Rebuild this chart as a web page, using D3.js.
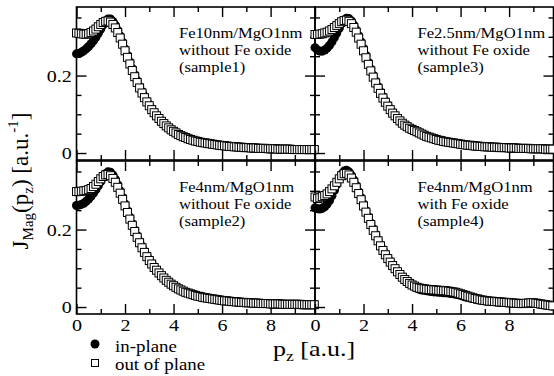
<!doctype html>
<html lang="en">
<head>
<meta charset="UTF-8">
<title>J_Mag(pz)</title>
<style>
  body { margin: 0; background: #fff; }
  svg { display: block; }
  text { font-family: "Liberation Serif", "Times New Roman", Times, serif; }
  .frame { fill: none; stroke: #000; stroke-width: 1.6; }
  .tick line { stroke: #000; stroke-width: 1.4; }
  .domain { display: none; }
</style>
</head>
<body>
<svg width="554" height="376"></svg>
<script src="https://cdn.jsdelivr.net/npm/d3@7"></script>
<script>
// momentum grid p_z [a.u.]
var pz = [0, .1, .2, .3, .4, .5, .6, .7, .8, .9,
  1, 1.1, 1.2, 1.3, 1.4, 1.5, 1.6, 1.7, 1.8, 1.9,
  2, 2.1, 2.2, 2.3, 2.4, 2.5, 2.6, 2.7, 2.8, 2.9,
  3, 3.1, 3.2, 3.3, 3.4, 3.5, 3.6, 3.7, 3.8, 3.9,
  4, 4.1, 4.2, 4.3, 4.4, 4.5, 4.6, 4.7, 4.8, 4.9,
  5, 5.1, 5.2, 5.3, 5.4, 5.5, 5.6, 5.7, 5.8, 5.9,
  6, 6.1, 6.2, 6.3, 6.4, 6.5, 6.6, 6.7, 6.8, 6.9,
  7, 7.1, 7.2, 7.3, 7.4, 7.5, 7.6, 7.7, 7.8, 7.9,
  8, 8.1, 8.2, 8.3, 8.4, 8.5, 8.6, 8.7, 8.8, 8.9,
  9, 9.1, 9.2, 9.3, 9.4, 9.5, 9.6, 9.7, 9.8];

// sample1 : Fe10nm/MgO1nm without Fe oxide
var s1In = [.256, .257, .260, .264, .269, .275, .282, .290, .299, .309,
  .320, .331, .340, .346, .346, .340, .330, .317, .302, .286,
  .269, .252, .235, .218, .202, .187, .172, .159, .147, .135,
  .125, .115, .106, .098, .090, .083, .077, .071, .066, .061,
  .057, .052, .049, .045, .042, .040, .037, .035, .033, .031,
  .030, .028, .027, .026, .025, .024, .023, .022, .021, .020,
  .019, .019, .018, .017, .017, .016, .016, .015, .015, .014,
  .014, .014, .013, .013, .013, .012, .012, .012, .012, .011,
  .011, .011, .011, .010, .010, .010, .010, .010, .010, .009,
  .009, .009, .009, .009, .009, .009, .009, .009, .009];
var s1Out = [.310, .309, .308, .307, .307, .308, .311, .315, .320, .326,
  .332, .337, .340, .341, .338, .332, .323, .311, .297, .281,
  .264, .247, .230, .213, .197, .182, .168, .155, .143, .132,
  .122, .112, .104, .096, .089, .082, .076, .070, .065, .060,
  .056, .052, .048, .045, .042, .040, .037, .035, .033, .031,
  .030, .028, .027, .026, .025, .024, .023, .022, .021, .020,
  .019, .019, .018, .017, .017, .016, .016, .015, .015, .014,
  .014, .014, .013, .013, .013, .012, .012, .012, .012, .011,
  .011, .011, .011, .010, .010, .010, .010, .010, .010, .009,
  .009, .009, .009, .009, .009, .009, .009, .009, .009];

// sample3 : Fe2.5nm/MgO1nm without Fe oxide
var s3In = [.272, .266, .263, .263, .266, .271, .278, .287, .298, .310,
  .322, .334, .343, .348, .347, .341, .331, .318, .303, .287,
  .270, .252, .234, .217, .201, .186, .171, .158, .146, .134,
  .124, .114, .105, .097, .089, .083, .077, .072, .068, .064,
  .061, .058, .055, .052, .049, .046, .043, .041, .039, .037,
  .035, .033, .032, .030, .029, .028, .027, .026, .025, .024,
  .023, .022, .021, .020, .020, .019, .018, .018, .017, .017,
  .016, .016, .016, .015, .015, .015, .014, .014, .014, .014,
  .013, .013, .013, .013, .012, .012, .012, .012, .012, .011,
  .011, .011, .011, .011, .011, .010, .010, .010, .010];
var s3Out = [.306, .306, .307, .308, .310, .312, .315, .319, .324, .329,
  .334, .339, .342, .343, .340, .334, .324, .312, .297, .281,
  .264, .246, .229, .212, .196, .181, .167, .154, .142, .131,
  .121, .112, .103, .096, .089, .083, .077, .072, .068, .064,
  .061, .058, .055, .052, .049, .046, .043, .041, .039, .037,
  .035, .033, .032, .030, .029, .028, .027, .026, .025, .024,
  .023, .022, .021, .020, .020, .019, .018, .018, .017, .017,
  .016, .016, .016, .015, .015, .015, .014, .014, .014, .014,
  .013, .013, .013, .013, .012, .012, .012, .012, .012, .011,
  .011, .011, .011, .011, .011, .010, .010, .010, .010];

// sample2 : Fe4nm/MgO1nm without Fe oxide
var s2In = [.262, .263, .265, .268, .273, .279, .286, .294, .303, .313,
  .324, .335, .344, .349, .348, .341, .330, .316, .300, .283,
  .266, .249, .232, .215, .199, .184, .170, .157, .144, .133,
  .123, .113, .104, .096, .088, .081, .075, .069, .064, .059,
  .055, .051, .047, .044, .041, .038, .036, .034, .032, .030,
  .028, .027, .025, .024, .023, .022, .021, .020, .019, .018,
  .017, .016, .016, .015, .014, .014, .013, .013, .012, .012,
  .011, .011, .011, .010, .010, .010, .009, .009, .009, .009,
  .008, .008, .008, .008, .008, .007, .007, .007, .007, .007,
  .007, .007, .007, .006, .006, .006, .006, .006, .006];
var s2Out = [.298, .298, .299, .300, .301, .303, .306, .311, .317, .324,
  .331, .337, .341, .342, .339, .332, .322, .309, .294, .278,
  .261, .244, .227, .211, .195, .180, .166, .153, .141, .130,
  .120, .111, .102, .095, .088, .081, .075, .069, .064, .059,
  .055, .051, .047, .044, .041, .038, .036, .034, .032, .030,
  .028, .027, .025, .024, .023, .022, .021, .020, .019, .018,
  .017, .016, .016, .015, .014, .014, .013, .013, .012, .012,
  .011, .011, .011, .010, .010, .010, .009, .009, .009, .009,
  .008, .008, .008, .008, .008, .007, .007, .007, .007, .007,
  .007, .007, .007, .006, .006, .006, .006, .006, .006];

// sample4 : Fe4nm/MgO1nm with Fe oxide
var s4In = [.256, .254, .253, .255, .259, .266, .275, .287, .301, .316,
  .331, .343, .351, .353, .349, .340, .328, .314, .298, .282,
  .266, .249, .233, .217, .202, .188, .174, .161, .149, .138,
  .127, .118, .109, .100, .092, .085, .078, .072, .066, .061,
  .056, .052, .049, .046, .044, .043, .042, .041, .040, .039,
  .039, .038, .038, .037, .037, .036, .035, .034, .033, .032,
  .030, .028, .026, .025, .023, .022, .020, .019, .018, .017,
  .016, .015, .015, .014, .014, .013, .013, .012, .012, .011,
  .011, .010, .010, .009, .009, .009, .009, .010, .010, .010,
  .010, .009, .008, .007, .006, .005, .004, .003, .002];
var s4Out = [.284, .280, .282, .285, .288, .292, .298, .305, .313, .322,
  .331, .339, .344, .345, .341, .333, .322, .308, .293, .277,
  .261, .245, .229, .213, .198, .184, .171, .158, .146, .135,
  .125, .116, .107, .099, .091, .084, .077, .071, .066, .061,
  .057, .054, .051, .049, .048, .047, .046, .045, .045, .044,
  .044, .043, .043, .042, .042, .041, .040, .039, .038, .036,
  .034, .032, .030, .028, .026, .024, .022, .021, .019, .018,
  .017, .016, .015, .015, .014, .014, .013, .013, .012, .012,
  .011, .011, .010, .010, .009, .009, .009, .010, .010, .011,
  .011, .010, .009, .008, .007, .006, .005, .004, .003];

var xMajor = [0, 2, 4, 6, 8],
    xMinor = [1, 3, 5, 7, 9],
    yMajor = [0, 0.2],
    yMinor = [0.05, 0.1, 0.15, 0.25, 0.3, 0.35];

var panels = [
  { col: 0, row: 0, inData: s1In, outData: s1Out, lines: ['Fe10nm/MgO1nm', 'without Fe oxide', '(sample1)'] },
  { col: 1, row: 0, inData: s3In, outData: s3Out, lines: ['Fe2.5nm/MgO1nm', 'without Fe oxide', '(sample3)'] },
  { col: 0, row: 1, inData: s2In, outData: s2Out, lines: ['Fe4nm/MgO1nm', 'without Fe oxide', '(sample2)'] },
  { col: 1, row: 1, inData: s4In, outData: s4Out, lines: ['Fe4nm/MgO1nm', 'with Fe oxide', '(sample4)'] }
];

var svg = d3.select('svg'),
    cols = [76.5, 315],
    rows = [7, 161],
    pw = 238.5,
    ph = 153,
    sx = 1.18; // glyphs in the original look a bit wide

var x = d3.scaleLinear().domain([0, 9.83]).range([0, pw]);
var y = d3.scaleLinear().domain([-0.018, 0.377]).range([ph, 0]);

function stretch(sel) {
  sel.selectAll('text').attr('transform', 'scale(' + sx + ',1)');
}

panels.forEach(function(p) {
  var g = svg.append('g')
    .attr('transform', 'translate(' + cols[p.col] + ',' + rows[p.row] + ')');

  g.append('rect').attr('class', 'frame')
    .attr('width', pw).attr('height', ph);

  // ticks on all four sides, pointing inward
  g.append('g').attr('transform', 'translate(0,' + ph + ')')
    .style('font-size', '17px')
    .call(d3.axisBottom(x).tickValues(xMajor).tickSize(-10).tickPadding(5)
      .tickFormat(p.row === 1 ? d3.format('d') : ''))
    .call(stretch);
  g.append('g').attr('transform', 'translate(0,' + ph + ')')
    .call(d3.axisBottom(x).tickValues(xMinor).tickSize(-5).tickFormat(''));
  g.append('g')
    .call(d3.axisTop(x).tickValues(xMajor).tickSize(-10).tickFormat(''));
  g.append('g')
    .call(d3.axisTop(x).tickValues(xMinor).tickSize(-5).tickFormat(''));
  g.append('g')
    .style('font-size', '17px')
    .call(d3.axisLeft(y).tickValues(yMajor).tickSize(-10).tickPadding(4)
      .tickFormat(p.col === 0 ? d3.format('~g') : ''))
    .call(stretch);
  g.append('g')
    .call(d3.axisLeft(y).tickValues(yMinor).tickSize(-5).tickFormat(''));
  g.append('g').attr('transform', 'translate(' + pw + ',0)')
    .call(d3.axisRight(y).tickValues(yMajor).tickSize(-10).tickFormat(''));
  g.append('g').attr('transform', 'translate(' + pw + ',0)')
    .call(d3.axisRight(y).tickValues(yMinor).tickSize(-5).tickFormat(''));

  g.selectAll('.pin')
    .data(p.inData)
    .enter().append('circle')
    .attr('class', 'pin')
    .attr('cx', function(d, i) { return x(pz[i]); })
    .attr('cy', function(d) { return y(d); })
    .attr('r', 4.5)
    .attr('fill', '#000');

  g.selectAll('.pout')
    .data(p.outData)
    .enter().append('rect')
    .attr('class', 'pout')
    .attr('x', function(d, i) { return x(pz[i]) - 4; })
    .attr('y', function(d) { return y(d) - 4; })
    .attr('width', 8)
    .attr('height', 8)
    .attr('fill', '#fff')
    .attr('stroke', '#000')
    .attr('stroke-width', 1);

  p.lines.forEach(function(t, i) {
    g.append('text')
      .attr('transform', 'translate(102.5,' + (31 + i * 17) + ') scale(1.07,1)')
      .style('font-size', '15.5px')
      .text(t);
  });
});

// axis titles
var xl = svg.append('text')
  .attr('transform', 'translate(314,356) scale(' + sx + ',1)')
  .attr('text-anchor', 'middle')
  .style('font-size', '22px');
xl.append('tspan').text('p');
xl.append('tspan').attr('dy', 5).style('font-size', '15px').text('z');
xl.append('tspan').attr('dy', -5).text(' [a.u.]');

var yl = svg.append('text')
  .attr('transform', 'translate(28,181) rotate(-90)')
  .attr('text-anchor', 'middle')
  .style('font-size', '23px');
yl.append('tspan').text('J');
yl.append('tspan').attr('dy', 5).style('font-size', '15px').text('Mag');
yl.append('tspan').attr('dy', -5).text('(p');
yl.append('tspan').attr('dy', 5).style('font-size', '15px').text('z');
yl.append('tspan').attr('dy', -5).text(') [a.u.');
yl.append('tspan').attr('dy', -10).style('font-size', '15px').text('-1');
yl.append('tspan').attr('dy', 10).text(']');

// legend
svg.append('circle').attr('cx', 95).attr('cy', 344).attr('r', 4.5).attr('fill', '#000');
svg.append('rect').attr('x', 91.5).attr('y', 359.5).attr('width', 7).attr('height', 7)
  .attr('fill', '#fff').attr('stroke', '#000').attr('stroke-width', 1);
svg.append('text').attr('transform', 'translate(115,352) scale(' + sx + ',1)')
  .style('font-size', '16px').text('in-plane');
svg.append('text').attr('transform', 'translate(115,370) scale(' + sx + ',1)')
  .style('font-size', '16px').text('out of plane');
</script>
</body>
</html>
